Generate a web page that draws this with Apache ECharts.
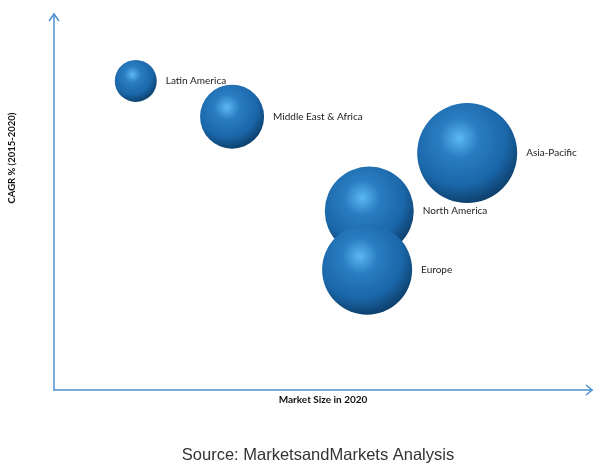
<!DOCTYPE html>
<html>
<head>
<meta charset="utf-8">
<script src="https://cdn.jsdelivr.net/npm/echarts@6/dist/echarts.min.js"></script>
<style>html,body{margin:0;padding:0;background:#fff}#c{width:600px;height:468px}</style>
</head>
<body>
<div id="c"></div>
<script>
// Data (relative units)
const regions = ['Latin America', 'Middle East & Africa', 'Asia-Pacific', 'North America', 'Europe'];
const marketSize = [15.2, 33.1, 76.8, 58.6, 58.2];   // x: Market Size in 2020 (relative)
const cagr = [82.2, 72.7, 63.0, 47.6, 32.0];         // y: CAGR % (2015-2020) (relative)
const bubbleSize = [42, 64, 100, 89, 90];            // relative bubble size

const chart = echarts.init(document.getElementById('c'));
const sphere = new echarts.graphic.RadialGradient(0.42, 0.35, 0.7, [
  { offset: 0, color: '#5cb8f2' },
  { offset: 0.28, color: '#2a7dc2' },
  { offset: 0.68, color: '#1a66a8' },
  { offset: 0.9, color: '#0f4676' },
  { offset: 1, color: '#0b3a64' }
]);
const axisColor = '#4a90d0';
chart.setOption({
  animation: false,
  grid: { left: 54, right: 8, top: 14, bottom: 78 },
  xAxis: {
    type: 'value', min: 0, max: 100,
    name: 'Market Size in 2020', nameLocation: 'middle', nameGap: 5,
    nameTextStyle: { fontFamily: 'Lato', fontWeight: 'bold', fontSize: 10, color: '#111' },
    axisLine: { lineStyle: { color: axisColor, width: 1.5 } },
    axisTick: { show: false }, axisLabel: { show: false }, splitLine: { show: false }
  },
  yAxis: {
    type: 'value', min: 0, max: 100,
    axisLine: { show: true, lineStyle: { color: axisColor, width: 1.5 } },
    axisTick: { show: false }, axisLabel: { show: false }, splitLine: { show: false }
  },
  graphic: [
    { type: 'polyline', shape: { points: [[49, 21], [54, 14], [59, 21]] }, style: { stroke: axisColor, lineWidth: 1.5, fill: null } },
    { type: 'polyline', shape: { points: [[586, 385], [592, 390], [586, 395]] }, style: { stroke: axisColor, lineWidth: 1.5, fill: null } },
    { type: 'text', x: 12, y: 158, rotation: Math.PI / 2,
      style: { text: 'CAGR % (2015-2020)', fontFamily: 'Lato', fontWeight: 'bold', fontSize: 9.5, fill: '#111', align: 'center', verticalAlign: 'middle' } },
    { type: 'text', x: 318, y: 455,
      style: { text: 'Source: MarketsandMarkets Analysis', fontFamily: 'Liberation Sans', fontSize: 16.5, fill: '#333', align: 'center', verticalAlign: 'middle' } }
  ],
  series: [{
    type: 'scatter',
    data: regions.map((r, i) => ({ name: r, value: [marketSize[i], cagr[i], bubbleSize[i]] })),
    symbolSize: v => v[2],
    itemStyle: { color: sphere, opacity: 1 },
    label: {
      show: true, position: 'right', distance: 9,
      formatter: p => p.name,
      fontFamily: 'Lato', fontSize: 10, color: '#222'
    },
    emphasis: { disabled: true }
  }]
});
</script>
</body>
</html>
